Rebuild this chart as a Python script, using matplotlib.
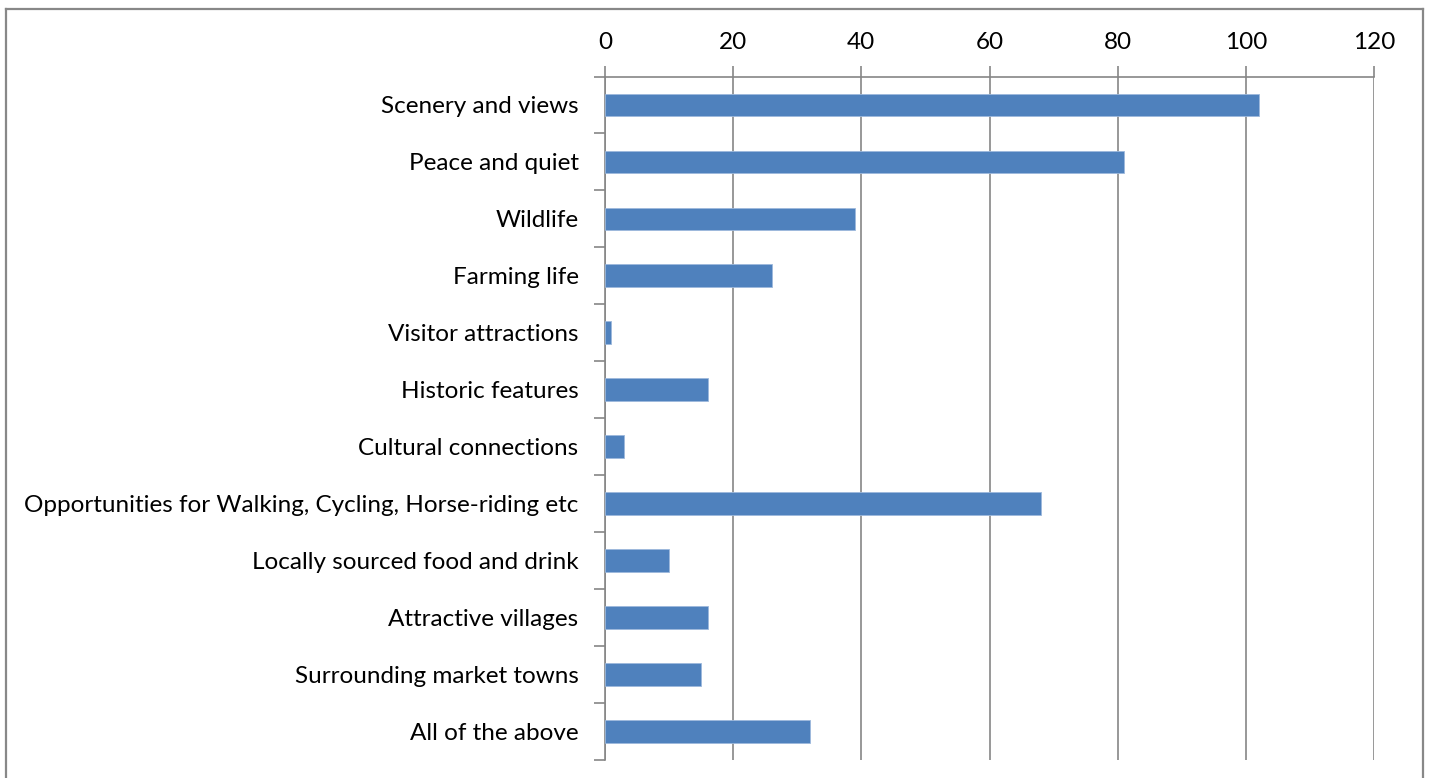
import numpy as np
import matplotlib.pyplot as plt
from matplotlib.lines import Line2D

categories = ['Scenery and views', 'Peace and quiet', 'Wildlife', 'Farming life',
              'Visitor attractions', 'Historic features', 'Cultural connections',
              'Opportunities for Walking, Cycling, Horse-riding etc',
              'Locally sourced food and drink', 'Attractive villages',
              'Surrounding market towns', 'All of the above']
values = [102, 81, 39, 26, 1, 16, 3, 68, 10, 16, 15, 32]
xticks = [0, 20, 40, 60, 80, 100, 120]

plt.rcParams['font.family'] = ['Lato', 'DejaVu Sans']

W, H = 1432, 778
fig = plt.figure(figsize=(W / 100, H / 100), dpi=100)
ax = fig.add_axes([605 / W, 1 - 760 / H, (1374 - 605) / W, (760 - 76.5) / H])

y = np.arange(len(categories))
ax.barh(y, values, height=0.4, color='#4F81BD', edgecolor='#9DB9DC', linewidth=0.6, zorder=3)
ax.set_ylim(len(categories) - 0.5, -0.5)
ax.set_xlim(0, 120)

ax.xaxis.tick_top()
ax.set_xticks(xticks)
ax.set_xticklabels([str(t) for t in xticks], fontsize=17.5)
ax.tick_params(axis='x', length=8, width=1.2, color='#868686', pad=9)
ax.grid(axis='x', color='#868686', linewidth=1.2, zorder=0)

ax.set_yticks(y)
ax.set_yticklabels(categories, fontsize=17.5)
ax.set_yticks(np.arange(len(categories) + 1) - 0.5, minor=True)
ax.tick_params(axis='y', which='major', length=0, pad=19)
ax.tick_params(axis='y', which='minor', length=8, width=1.2, color='#868686')

for s in ['right', 'bottom']:
    ax.spines[s].set_visible(False)
for s in ['top', 'left']:
    ax.spines[s].set_color('#868686')
    ax.spines[s].set_linewidth(1.2)

# outer chart border
c = '#888888'
fig.add_artist(Line2D([6 / W, 6 / W], [0, 1 - 9 / H], color=c, lw=1.6))
fig.add_artist(Line2D([6 / W, 1423 / W], [1 - 9 / H, 1 - 9 / H], color=c, lw=1.6))
fig.add_artist(Line2D([1423 / W, 1423 / W], [0, 1 - 9 / H], color=c, lw=1.6))

fig.savefig('out.png', dpi=100)
